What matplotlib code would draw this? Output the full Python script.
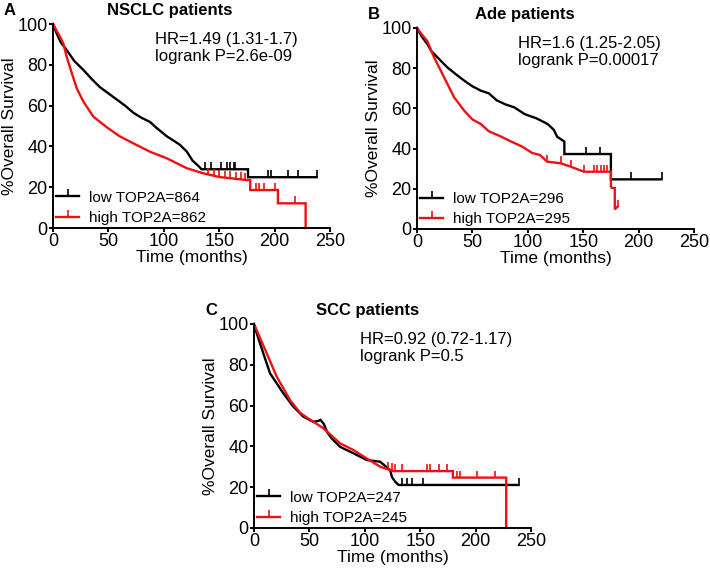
import matplotlib
matplotlib.use("Agg")
import matplotlib.pyplot as plt
from matplotlib.lines import Line2D

plt.rcParams['font.family'] = ['Liberation Sans', 'DejaVu Sans']

# ---- panel A: NSCLC ----
a_low_t = [0, 3.3, 7, 12.3, 19, 27.4, 35, 42.4, 50, 57.5, 65, 72.5, 80, 87.5, 93.6, 102.6, 114, 120.7, 126, 132, 134, 176, 176, 238]
a_low_s = [100, 95.4, 91, 87.3, 82, 77.5, 73, 69, 66, 63, 60, 56.5, 54, 52, 49, 45, 41, 37.5, 33, 30, 28.8, 28.8, 24.9, 24.9]
a_high_t = [0, 3, 6, 9.3, 12.3, 16.9, 21.4, 27.4, 36.4, 48.5, 60, 72.5, 87.5, 102.6, 120.7, 135.7, 150, 175, 178, 178, 203, 203, 228, 228]
a_high_s = [100, 97, 94, 90.5, 84, 76, 68.5, 62, 54.6, 49.4, 45, 41.5, 37.4, 34.2, 29.3, 26.8, 25, 23.5, 23.5, 18.6, 18.6, 12.1, 12.1, 0]
a_low_cens_t = [137, 143, 152, 157, 160, 163, 164, 194, 197, 212, 221, 238]
a_low_cens_s = [28.8, 28.8, 28.8, 28.8, 28.8, 28.8, 28.8, 24.9, 24.9, 24.9, 24.9, 24.9]
a_high_cens_t = [140, 145, 150, 155, 160, 165, 170, 173, 183, 186, 190, 200, 218]
a_high_cens_s = [26, 25.5, 25, 24.5, 24.3, 24, 23.8, 23.6, 18.6, 18.6, 18.6, 18.6, 12.1]

# ---- panel B: Ade ----
b_low_t = [0, 4, 9.3, 13, 18.4, 27.4, 35, 42.6, 50, 57.7, 64.8, 72, 79.8, 87.9, 97, 108, 118, 123.5, 126.5, 133, 133, 175, 175, 220.7]
b_low_s = [100, 96, 92, 88.5, 85.4, 80.4, 77, 73.8, 71, 68.8, 67.5, 64, 62, 60.5, 57.2, 55, 52.2, 49.3, 45.9, 43.5, 37.3, 37.3, 24.7, 24.7]
b_high_t = [0, 4, 9.3, 15.4, 24.5, 33.5, 42.6, 50, 57.7, 64.8, 75.8, 85, 94.9, 104, 111, 117.5, 129.7, 138.7, 150.7, 175, 175, 176, 178.5, 178.5, 181]
b_high_s = [100, 97, 93.5, 85.4, 75.4, 65.5, 58.9, 54.5, 52.2, 48.6, 46, 43.5, 41, 37.8, 36.8, 33.5, 32.7, 31, 28.5, 28.5, 21, 20.4, 20.4, 9.8, 11.1]
b_low_cens_t = [152.8, 164.9, 193, 220.7]
b_low_cens_s = [37.3, 37.3, 24.7, 24.7]
b_high_cens_t = [117.5, 129.7, 138.7, 150.7, 159.8, 162.8, 165.8, 168.9, 171.9, 181]
b_high_cens_s = [33.5, 32.7, 31, 28.5, 28.5, 28.5, 28.5, 28.5, 28.5, 11.1]

# ---- panel C: SCC ----
c_low_t = [0, 2.5, 8.4, 14.5, 20.5, 26.5, 35.5, 44.5, 53.6, 58, 60, 63, 66, 70, 77.7, 89.8, 102, 113.8, 122.9, 124.4, 127.4, 130.4, 238.8]
c_low_s = [100, 95.4, 85.6, 75.8, 70.9, 66, 59.5, 54.6, 52, 52.5, 53, 51, 47, 44, 39.8, 36.6, 33.3, 32.5, 28.4, 25.1, 22.7, 21.1, 21.1]
c_high_t = [0, 2.4, 11.5, 20.5, 32.5, 41.6, 47.6, 62.6, 77.7, 89.8, 102, 114, 125.8, 179.5, 179.5, 227.6, 227.6]
c_high_s = [100, 97, 85.6, 74.2, 62.7, 56.5, 54.2, 48.9, 41.5, 38.2, 34, 30, 27.9, 27.9, 24.7, 24.7, 0]
c_low_cens_t = [133.4, 137.9, 143, 152.4, 238.8]
c_low_cens_s = [21.1, 21.1, 21.1, 21.1, 21.1]
c_high_cens_t = [121.3, 124.4, 127.4, 133.4, 156, 158.4, 167.4, 174, 183, 186, 201, 217.7]
c_high_cens_s = [29, 28.5, 28, 27.9, 27.9, 27.9, 27.9, 27.9, 24.7, 24.7, 24.7, 24.7]

RED = "#ee1111"

panels = [
    dict(rect=[53 / 710, 1 - 228 / 579, 277 / 710, 204 / 579], letter="A", title="NSCLC patients",
         title_x=0.42, hr_x=0.368,
         hr="HR=1.49 (1.31-1.7)", p="logrank P=2.6e-09", n_low=864, n_high=862,
         low=(a_low_t, a_low_s, a_low_cens_t, a_low_cens_s),
         high=(a_high_t, a_high_s, a_high_cens_t, a_high_cens_s)),
    dict(rect=[417 / 710, 1 - 229 / 579, 277 / 710, 201 / 579], letter="B", title="Ade patients",
         title_x=0.39, hr_x=0.366,
         hr="HR=1.6 (1.25-2.05)", p="logrank P=0.00017", n_low=296, n_high=295,
         low=(b_low_t, b_low_s, b_low_cens_t, b_low_cens_s),
         high=(b_high_t, b_high_s, b_high_cens_t, b_high_cens_s)),
    dict(rect=[254 / 710, 1 - 528 / 579, 277 / 710, 204 / 579], letter="C", title="SCC patients",
         title_x=0.41, hr_x=0.383,
         hr="HR=0.92 (0.72-1.17)", p="logrank P=0.5", n_low=247, n_high=245,
         low=(c_low_t, c_low_s, c_low_cens_t, c_low_cens_s),
         high=(c_high_t, c_high_s, c_high_cens_t, c_high_cens_s)),
]

fig = plt.figure(figsize=(7.1, 5.79), dpi=100)

for pn in panels:
    ax = fig.add_axes(pn["rect"])
    for key, col in (("low", "black"), ("high", RED)):
        t, s, ct, cs = pn[key]
        ax.plot(t, s, color=col, lw=1.7, clip_on=False, solid_joinstyle="miter")
        ax.plot(ct, cs, ls="none", marker=2, ms=5, mew=1.2, color=col, clip_on=False)
    ax.set_xlim(0, 250)
    ax.set_ylim(0, 100)
    ax.set_xticks([0, 50, 100, 150, 200, 250])
    ax.set_yticks([0, 20, 40, 60, 80, 100])
    for side in ("top", "right"):
        ax.spines[side].set_visible(False)
    for side in ("left", "bottom"):
        ax.spines[side].set_linewidth(1.4)
    ax.tick_params(direction="out", length=3, width=1.4, labelsize=13, pad=0.8)
    ax.set_xlabel("Time (months)", fontsize=12.5, labelpad=0)
    ax.set_ylabel("%Overall Survival", fontsize=12.5, labelpad=0)
    ax.text(pn["title_x"], 1.044, pn["title"], transform=ax.transAxes, fontsize=12,
            fontweight="bold", ha="center", va="baseline")
    ax.text(-0.177, 1.044, pn["letter"], transform=ax.transAxes, fontsize=12,
            fontweight="bold", ha="left", va="baseline")
    ax.text(pn["hr_x"], 0.96, pn["hr"] + "\n" + pn["p"], transform=ax.transAxes,
            fontsize=12, ha="left", va="top", linespacing=1.15)
    handles = [Line2D([], [], color="black", lw=1.7, marker=2, ms=5, mew=1.2),
               Line2D([], [], color=RED, lw=1.7, marker=2, ms=5, mew=1.2)]
    ax.legend(handles, ["low TOP2A=%d" % pn["n_low"], "high TOP2A=%d" % pn["n_high"]],
              loc="lower left", frameon=False, fontsize=11, numpoints=1,
              handlelength=1.5, handletextpad=0.65, borderaxespad=0, borderpad=0,
              labelspacing=0.4, bbox_to_anchor=(0.012, 0.015))

fig.savefig("out.png", dpi=100)
